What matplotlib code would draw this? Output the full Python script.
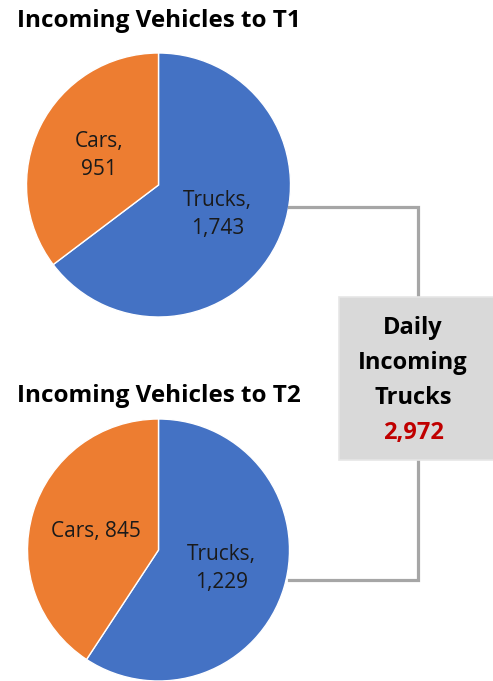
import matplotlib.pyplot as plt
from matplotlib.patches import Rectangle

plt.rcParams['font.family'] = ['Open Sans', 'DejaVu Sans']

W, H = 493, 681

categories = ['Trucks', 'Cars']
t1_values = [1743, 951]
t2_values = [1229, 845]
t1_labels = ['Trucks,\n1,743', 'Cars,\n951']
t2_labels = ['Trucks,\n1,229', 'Cars, 845']
titles = ['Incoming Vehicles to T1', 'Incoming Vehicles to T2']
box_lines = ['Daily', 'Incoming', 'Trucks']
total_trucks = t1_values[0] + t2_values[0]

colors = ['#4472C4', '#ED7D31']

fig = plt.figure(figsize=(W / 100, H / 100), dpi=100)
ax = fig.add_axes([0, 0, 1, 1])
ax.set_xlim(0, W)
ax.set_ylim(0, H)
ax.set_aspect('equal')
ax.axis('off')

# pies, centers in pixel space (y measured from top)
pies = [(t1_values, t1_labels, (158.5, 185), 132),
        (t2_values, t2_labels, (158.5, 550), 131)]
for vals, labs, (cx, cy), r in pies:
    ax.pie(vals, labels=labs, colors=colors, startangle=90, counterclock=False,
           center=(cx, H - cy), radius=r, labeldistance=0.5,
           wedgeprops=dict(edgecolor='white', linewidth=1),
           textprops=dict(ha='center', va='center', fontsize=15, color='#1a1a1a',
                          linespacing=1.45))
ax.set_xlim(0, W)
ax.set_ylim(0, H)

ax.text(17, H - 21, titles[0], fontsize=17.5, fontweight='bold', ha='left', va='center')
ax.text(17, H - 396, titles[1], fontsize=17.5, fontweight='bold', ha='left', va='center')

# connectors
line_kw = dict(color='#A6A6A6', linewidth=2.3, solid_joinstyle='miter', zorder=1)
ax.plot([289, 418, 418], [H - 207, H - 207, H - 297], **line_kw)
ax.plot([418, 418, 289], [H - 460, H - 580, H - 580], **line_kw)

# summary box
ax.add_patch(Rectangle((339, H - 460), 160, 163, facecolor='#D9D9D9',
                       edgecolor='#E6E6E6', linewidth=1.2, zorder=2))
for i, line in enumerate(box_lines):
    ax.text(413, H - (328 + 35 * i), line, fontsize=17, fontweight='bold',
            ha='center', va='center', zorder=3)
ax.text(413, H - (328 + 35 * 3), f'{total_trucks:,}', fontsize=17, fontweight='bold',
        color='#C00000', ha='center', va='center', zorder=3)

fig.savefig('out.png', dpi=100)
